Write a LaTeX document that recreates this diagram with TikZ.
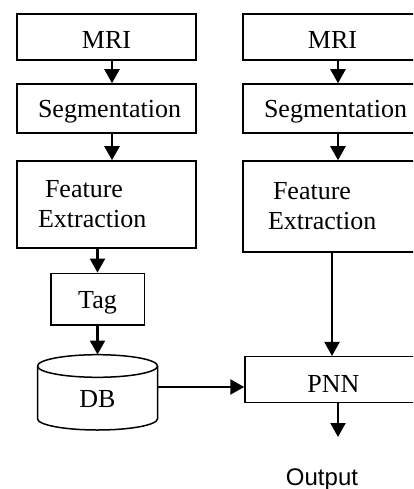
\documentclass[tikz,border=0pt]{standalone}
\usepackage{fontspec}
\setmainfont{Liberation Serif}
\newfontfamily\outfont{Liberation Sans}
\usetikzlibrary{arrows.meta}
\begin{document}
\begin{tikzpicture}[x=1pt,y=1pt,
  box/.style={draw, line width=1.5pt, inner sep=0pt, font=\fontsize{26}{30}\selectfont},
  th/.style={text height=#1, text depth=0pt},
  conn/.style={line width=2.2pt, -{Triangle[width=15pt,length=14pt]}}]
\useasboundingbox (0,0) rectangle (413,-489);
\clip (0,0) rectangle (413,-489);
% left column
\node[box, th=24pt, minimum width=179pt, minimum height=46pt] (mriL) at (106.5,-37) {MRI};
\node[box, th=19pt, minimum width=179pt, minimum height=49pt] (segL) at (106.5,-108.5) {\hspace*{6pt}Segmentation};
\node[box, minimum width=179pt, minimum height=87pt, text width=137pt, inner xsep=21pt, align=left] (featL) at (106.5,-204.5) {\hspace*{7pt}Feature\\Extraction};
\node[box, th=18pt, minimum width=93.5pt, minimum height=51.7pt] (tag) at (97.5,-299.2) {Tag};
% DB cylinder
\node[inner sep=0pt, th=30pt, minimum width=120pt, minimum height=60pt, font=\fontsize{26}{30}\selectfont] (db) at (97.5,-392) {DB};
\draw[line width=1.5pt] (37.5,-366) arc[start angle=180, end angle=-180, x radius=60pt, y radius=11.3pt];
\draw[line width=1.5pt] (37.5,-366) -- (37.5,-418.7) arc[start angle=180, end angle=360, x radius=60pt, y radius=11.3pt] -- (157.5,-366);
% right column
\node[box, th=24pt, minimum width=179pt, minimum height=46pt] (mriR) at (332.5,-37) {MRI};
\node[box, th=19pt, minimum width=179pt, minimum height=49pt] (segR) at (332.5,-108.5) {\hspace*{6pt}Segmentation};
\node[box, minimum width=179pt, minimum height=91pt, text width=129pt, inner xsep=25pt, align=left] (featR) at (332.5,-206.5) {\hspace*{5pt}Feature\\Extraction};
\node[box, th=25pt, minimum width=177pt, minimum height=45.6pt] (pnn) at (333.5,-379.5) {PNN};
\coordinate (out) at (338,-437);
\node[font=\outfont\fontsize{24}{28}\selectfont, anchor=base] (outtxt) at (322,-485) {Output};
% connectors
\draw[conn] ([xshift=5.5pt]mriL.south) -- ([xshift=5.5pt]segL.north);
\draw[conn] ([xshift=5.5pt]segL.south) -- ([xshift=5.5pt]featL.north);
\draw[conn] ([xshift=5.5pt]mriR.south) -- ([xshift=5.5pt]segR.north);
\draw[conn] ([xshift=5.5pt]segR.south) -- ([xshift=5.5pt]featR.north);
\draw[conn] (featL.south -| tag.north) -- (tag.north);
\draw[conn] (tag.south) -- (tag.south |- 0,-354.5);
\draw[conn] ([yshift=5pt]db.east) -- ([yshift=5pt]db.east -| pnn.west);
\draw[conn] ([xshift=-0.5pt]featR.south) -- ([xshift=-0.5pt]featR.south |- pnn.north);
\draw[conn] ([xshift=4.5pt]pnn.south) -- (out);
\end{tikzpicture}
\end{document}
